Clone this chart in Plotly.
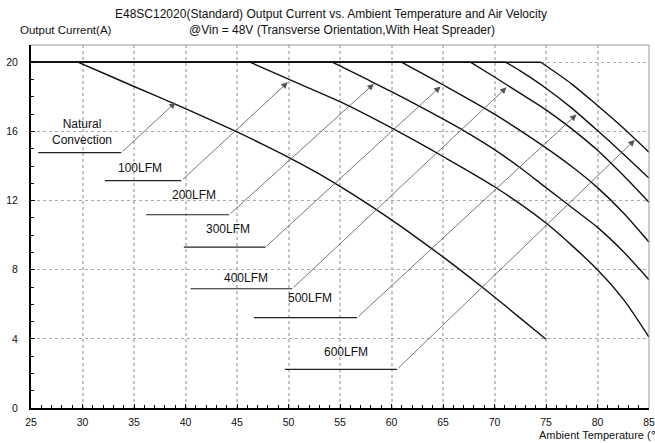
import plotly.graph_objects as go

# ---------------- data ----------------
nc_t = [25, 29.6, 32.5, 35, 39, 42, 45, 47.5, 50, 52.5, 55, 57.5, 60, 62.5, 65, 67.5, 70, 72.5, 75]
nc_i = [20, 20, 19.25, 18.6, 17.58, 16.78, 15.97, 15.25, 14.5, 13.7, 12.82, 11.88, 10.88, 9.83, 8.74, 7.6, 6.42, 5.2, 3.98]

lfm100_t = [25, 46.3, 50, 55, 60, 65, 70, 75, 80, 82.5, 85]
lfm100_i = [20, 20, 19.02, 17.72, 16.2, 14.55, 12.8, 10.7, 8.0, 6.3, 4.1]

lfm200_t = [25, 54.3, 57.5, 60, 63.5, 67, 70, 72.5, 75, 77.5, 80, 82.5, 85]
lfm200_i = [20, 20, 19.05, 18.3, 17.2, 16.05, 14.95, 13.9, 12.75, 11.6, 10.45, 9.05, 7.42]

lfm300_t = [25, 61, 65, 70, 75, 77.5, 80, 82.5, 85]
lfm300_i = [20, 20, 18.7, 17.0, 15.05, 13.97, 12.75, 11.3, 9.6]

lfm400_t = [25, 67.7, 70, 72.5, 75, 77.5, 80, 82.5, 85]
lfm400_i = [20, 20, 19.15, 18.2, 17.25, 16.15, 14.91, 13.46, 11.9]

lfm500_t = [25, 71.1, 72.5, 75, 77.5, 80, 82.5, 85]
lfm500_i = [20, 20, 19.5, 18.5, 17.35, 16.05, 14.7, 13.3]

lfm600_t = [25, 74.5, 77.5, 80, 82.5, 85]
lfm600_i = [20, 20, 18.74, 17.5, 16.2, 14.8]

x_ticks = [25, 30, 35, 40, 45, 50, 55, 60, 65, 70, 75, 80, 85]
y_ticks = [0, 4, 8, 12, 16, 20]

labels = ["Natural<br>Convection", "100LFM", "200LFM", "300LFM", "400LFM", "500LFM", "600LFM"]
label_x = [29.96, 35.63, 40.86, 44.17, 45.9, 52.06, 55.6]
label_y = [15.94, 13.9, 12.3, 10.33, 7.54, 6.36, 3.24]
# callout underline (start x, end x, y) and arrow tip (x, y)
line_x0 = [25.7, 32.17, 36.18, 39.84, 40.49, 46.63, 49.64]
line_x1 = [33.76, 39.6, 44.24, 47.77, 50.36, 56.67, 60.55]
line_y = [14.77, 13.15, 11.18, 9.31, 6.9, 5.23, 2.24]
tip_x = [39.03, 49.93, 58.28, 64.76, 71.17, 77.96, 83.62]
tip_y = [17.68, 18.84, 18.75, 18.6, 18.55, 16.98, 15.51]

title1 = "E48SC12020(Standard) Output Current vs. Ambient Temperature and Air Velocity"
title2 = "@Vin = 48V (Transverse Orientation,With Heat Spreader)"
y_title = "Output Current(A)"
x_title = "Ambient Temperature (℃)"

# ---------------- figure ----------------
FONT = "Arial, Liberation Sans, sans-serif"
series = [(nc_t, nc_i), (lfm100_t, lfm100_i), (lfm200_t, lfm200_i), (lfm300_t, lfm300_i),
          (lfm400_t, lfm400_i), (lfm500_t, lfm500_i), (lfm600_t, lfm600_i)]

fig = go.Figure()
for t, i in series:
    # flat current-limit part
    fig.add_trace(go.Scatter(x=t[:2], y=i[:2], mode="lines", line=dict(color="#111111", width=1.4),
                             hoverinfo="skip", showlegend=False))
    # derating part, smoothed
    fig.add_trace(go.Scatter(x=t[1:], y=i[1:], mode="lines",
                             line=dict(color="#111111", width=1.4, shape="spline", smoothing=0.8),
                             hoverinfo="skip", showlegend=False))

L, R, T, B = 31, 6, 45, 35
W, H = 655, 443
pw, ph = W - L - R, H - T - B

def px(xp):
    return (xp - L) / pw

def py(yp):
    return (H - B - yp) / ph

annotations = []
shapes = []
for k in range(len(labels)):
    annotations.append(dict(x=label_x[k], y=label_y[k], xref="x", yref="y", text=labels[k],
                            showarrow=False, font=dict(family=FONT, size=12, color="#111"),
                            xanchor="center", yanchor="middle"))
    shapes.append(dict(type="line", xref="x", yref="y", x0=line_x0[k], x1=line_x1[k],
                       y0=line_y[k], y1=line_y[k], line=dict(color="#222", width=1.2)))
    annotations.append(dict(x=tip_x[k], y=tip_y[k], xref="x", yref="y", ax=line_x1[k], ay=line_y[k],
                            axref="x", ayref="y", text="", showarrow=True, arrowhead=2,
                            arrowsize=1.6, arrowwidth=0.8, arrowcolor="#555", standoff=0))

annotations += [
    dict(x=px(330.5), y=py(14), xref="paper", yref="paper", text=title1, showarrow=False,
         font=dict(family=FONT, size=12, color="#111"), xanchor="center", yanchor="middle"),
    dict(x=px(342), y=py(30), xref="paper", yref="paper", text=title2, showarrow=False,
         font=dict(family=FONT, size=12, color="#111"), xanchor="center", yanchor="middle"),
    dict(x=px(66), y=py(30), xref="paper", yref="paper", text=y_title, showarrow=False,
         font=dict(family=FONT, size=11.5, color="#111"), xanchor="center", yanchor="middle"),
    dict(x=px(537), y=py(435), xref="paper", yref="paper", text=x_title, showarrow=False,
         font=dict(family=FONT, size=11, color="#111"), xanchor="left", yanchor="middle"),
]

shapes += [
    dict(type="line", xref="paper", yref="paper", x0=0, x1=1, y0=1, y1=1, line=dict(color="#999", width=1)),
    dict(type="line", xref="paper", yref="paper", x0=1, x1=1, y0=0, y1=1, line=dict(color="#999", width=1)),
]

fig.update_layout(
    width=W, height=H, margin=dict(l=L, r=R, t=T, b=B, autoexpand=False),
    plot_bgcolor="white", paper_bgcolor="white",
    annotations=annotations, shapes=shapes,
    xaxis=dict(range=[25, 85], tickmode="array", tickvals=x_ticks, ticktext=[str(v) for v in x_ticks],
               automargin=False,
               showgrid=True, gridcolor="#c4c4c4", griddash="dot", gridwidth=1.5,
               showline=True, linecolor="black", linewidth=2, zeroline=False,
               ticks="inside", ticklen=4, tickcolor="black", ticklabelstandoff=3,
               tickfont=dict(family=FONT, size=10.5, color="#111"),
               minor=dict(tickmode="linear", tick0=25, dtick=1, ticks="inside", ticklen=3,
                          tickcolor="black", showgrid=False)),
    yaxis=dict(range=[0, 21], tickmode="array", tickvals=y_ticks, ticktext=[str(v) for v in y_ticks],
               automargin=False,
               showgrid=True, gridcolor="#aaaaaa", griddash="dot", gridwidth=1,
               showline=True, linecolor="black", linewidth=2, zeroline=False,
               ticks="inside", ticklen=4, tickcolor="black", ticklabelstandoff=9,
               tickfont=dict(family=FONT, size=10.5, color="#111"),
               minor=dict(tickmode="linear", tick0=0, dtick=1, ticks="inside", ticklen=3,
                          tickcolor="black", showgrid=False)),
)

fig.write_html("out.html", config={"displayModeBar": False},
               post_script="document.body.style.margin='0px';document.body.style.overflow='hidden';")
